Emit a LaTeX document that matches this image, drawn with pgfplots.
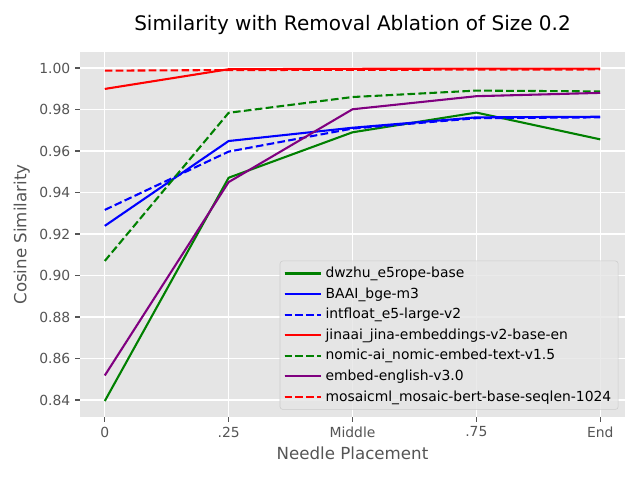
\documentclass[border=0pt]{standalone}
\usepackage{pgfplots}
\pgfplotsset{compat=1.18}
\usepackage{fontspec}
\setmainfont{DejaVu Sans}
\definecolor{bg}{HTML}{E5E5E5}
\definecolor{tk}{HTML}{555555}
\definecolor{mgreen}{HTML}{008000}
\definecolor{mpurple}{HTML}{800080}
\begin{document}
\begin{tikzpicture}
\begin{axis}[
  name=ax, at={(0,0)}, anchor=south west,
  scale only axis, width=392.4pt, height=262.8pt,
  xmin=-0.2, xmax=4.2, ymin=0.8318, ymax=1.0077,
  axis background/.style={fill=bg},
  axis line style={draw=none},
  grid=major, major grid style={white, line width=0.8pt},
  xtick={0,1,2,3,4}, xticklabels={0,.25,Middle,.75,End},
  ytick={0.84,0.86,0.88,0.90,0.92,0.94,0.96,0.98,1.00},
  yticklabel style={/pgf/number format/.cd, fixed, fixed zerofill, precision=2},
  /pgf/number format/assume math mode=true,
  tick align=outside, tick pos=left,
  major tick length=3.5pt,
  tick style={tk, line width=0.8pt},
  ticklabel style={font=\fontsize{10}{12}\selectfont, text=tk},
  xlabel={Needle Placement}, ylabel={Cosine Similarity},
  label style={font=\fontsize{12}{14}\selectfont, text=tk},
  title={Similarity with Removal Ablation of Size 0.2},
  title style={font=\fontsize{14.4}{17}\selectfont, yshift=3pt},
  legend style={at={(0.988,0.02)}, anchor=south east, fill=bg, fill opacity=0.8, text opacity=1, draw=white!80!black, rounded corners=2pt, font=\fontsize{10}{12}\selectfont, row sep=1.7pt, inner sep=2.5pt, nodes={inner xsep=2.5pt}},
  legend cell align=left,
  legend image code/.code={\draw[#1] (0pt,0pt) -- (21pt,0pt); \path (0pt,0pt) -- (26.3pt,0pt);},
  every axis plot/.append style={line width=1.5pt},
]
\addplot[mgreen] coordinates {(0,0.8395) (1,0.9471) (2,0.9690) (3,0.9785) (4,0.9656)};
\addlegendentry{dwzhu\_e5rope-base}
\addplot[blue] coordinates {(0,0.9239) (1,0.9648) (2,0.9712) (3,0.9762) (4,0.9765)};
\addlegendentry{BAAI\_bge-m3}
\addplot[blue, dash pattern=on 5.5pt off 2.4pt] coordinates {(0,0.9316) (1,0.9597) (2,0.9708) (3,0.9758) (4,0.9762)};
\addlegendentry{intfloat\_e5-large-v2}
\addplot[red] coordinates {(0,0.9899) (1,0.9994) (2,0.9996) (3,0.9997) (4,0.9997)};
\addlegendentry{jinaai\_jina-embeddings-v2-base-en}
\addplot[mgreen, dash pattern=on 5.5pt off 2.4pt] coordinates {(0,0.9070) (1,0.9784) (2,0.9860) (3,0.9891) (4,0.9887)};
\addlegendentry{nomic-ai\_nomic-embed-text-v1.5}
\addplot[mpurple] coordinates {(0,0.8518) (1,0.9450) (2,0.9801) (3,0.9864) (4,0.9880)};
\addlegendentry{embed-english-v3.0}
\addplot[red, dash pattern=on 5.5pt off 2.4pt] coordinates {(0,0.9987) (1,0.9990) (2,0.9991) (3,0.9992) (4,0.9993)};
\addlegendentry{mosaicml\_mosaic-bert-base-seqlen-1024}
\end{axis}
\path[use as bounding box] (-57.6pt,-45.36pt) rectangle (403.2pt,300.24pt);
\end{tikzpicture}
\end{document}
